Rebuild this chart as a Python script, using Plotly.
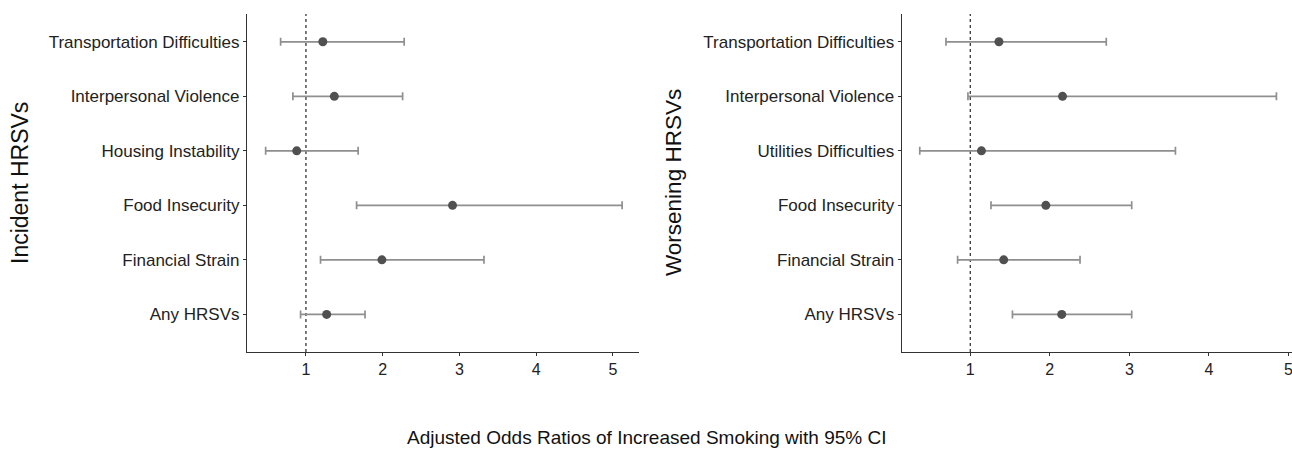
import plotly.graph_objects as go

# Data (bottom to top order)
left_cats = ["Any HRSVs", "Financial Strain", "Food Insecurity", "Housing Instability",
             "Interpersonal Violence", "Transportation Difficulties"]
left_or = [1.27, 1.99, 2.91, 0.88, 1.37, 1.22]
left_lo = [0.93, 1.19, 1.66, 0.475, 0.83, 0.67]
left_hi = [1.77, 3.32, 5.12, 1.68, 2.26, 2.28]

right_cats = ["Any HRSVs", "Financial Strain", "Food Insecurity", "Utilities Difficulties",
              "Interpersonal Violence", "Transportation Difficulties"]
right_or = [2.15, 1.42, 1.95, 1.14, 2.16, 1.36]
right_lo = [1.53, 0.84, 1.26, 0.364, 0.97, 0.694]
right_hi = [3.03, 2.38, 3.03, 3.58, 4.85, 2.71]

x_ticks = [1, 2, 3, 4, 5]

FONT = "Liberation Sans, Arial, sans-serif"
PT = "#505050"
ERR = "#8f8f8f"
AX = "#333333"
W, H = 1292, 453

fig = go.Figure()

def add_panel(cats, est, lo, hi, xa, ya):
    fig.add_trace(go.Scatter(
        x=est, y=cats, mode="markers",
        marker=dict(color=PT, size=9),
        error_x=dict(type="data", symmetric=False,
                     array=[h - e for h, e in zip(hi, est)],
                     arrayminus=[e - l for e, l in zip(est, lo)],
                     color=ERR, thickness=1.7, width=4),
        xaxis=xa, yaxis=ya, showlegend=False, hoverinfo="skip"))

add_panel(left_cats, left_or, left_lo, left_hi, "x", "y")
add_panel(right_cats, right_or, right_lo, right_hi, "x2", "y2")

ydom = [(H - 352) / H, (H - 14) / H]
yrange = [-0.69, 5.51]
axis_common = dict(showline=True, linecolor=AX, linewidth=1.2, ticks="outside",
                   ticklen=3, tickcolor=AX, tickwidth=1.1, showgrid=False, zeroline=False)
yfont = dict(family=FONT, size=17, color="#222222")
xfont = dict(family=FONT, size=16, color="#222222")

fig.update_layout(
    width=W, height=H,
    margin=dict(l=0, r=0, t=0, b=0),
    paper_bgcolor="white", plot_bgcolor="white",
    xaxis=dict(domain=[247 / W, 639 / W], range=[0.232, 5.34], tickvals=x_ticks,
               anchor="y", tickfont=xfont, ticklabeloverflow="allow", **axis_common),
    yaxis=dict(domain=ydom, type="category", categoryorder="array",
               categoryarray=left_cats, range=yrange, anchor="x",
               tickfont=yfont, **axis_common),
    xaxis2=dict(domain=[901.7 / W, 1.0], range=[0.137, 5.046], tickvals=x_ticks,
                anchor="y2", tickfont=xfont, ticklabeloverflow="allow", **axis_common),
    yaxis2=dict(domain=ydom, type="category", categoryorder="array",
                categoryarray=right_cats, range=yrange, anchor="x2",
                tickfont=yfont, **axis_common),
)

for xa, ya in [("x", "y domain"), ("x2", "y2 domain")]:
    fig.add_shape(type="line", xref=xa, yref=ya, x0=1, x1=1, y0=0, y1=1,
                  line=dict(color="#444444", width=1.4, dash="dot"), layer="below")

fig.add_annotation(text="Adjusted Odds Ratios of Increased Smoking with 95% CI",
                   xref="paper", yref="paper", x=646 / W, y=(H - 437) / H,
                   showarrow=False, xanchor="center", yanchor="middle",
                   font=dict(family=FONT, size=19, color="#111111"))
fig.add_annotation(text="Incident HRSVs", xref="paper", yref="paper",
                   x=20 / W, y=(H - 183) / H, textangle=-90, showarrow=False,
                   xanchor="center", yanchor="middle",
                   font=dict(family=FONT, size=23, color="#111111"))
fig.add_annotation(text="Worsening HRSVs", xref="paper", yref="paper",
                   x=674 / W, y=(H - 183) / H, textangle=-90, showarrow=False,
                   xanchor="center", yanchor="middle",
                   font=dict(family=FONT, size=22.5, color="#111111"))

fig.write_html("out.html", config={"displayModeBar": False},
               post_script="document.body.style.margin='0';")
